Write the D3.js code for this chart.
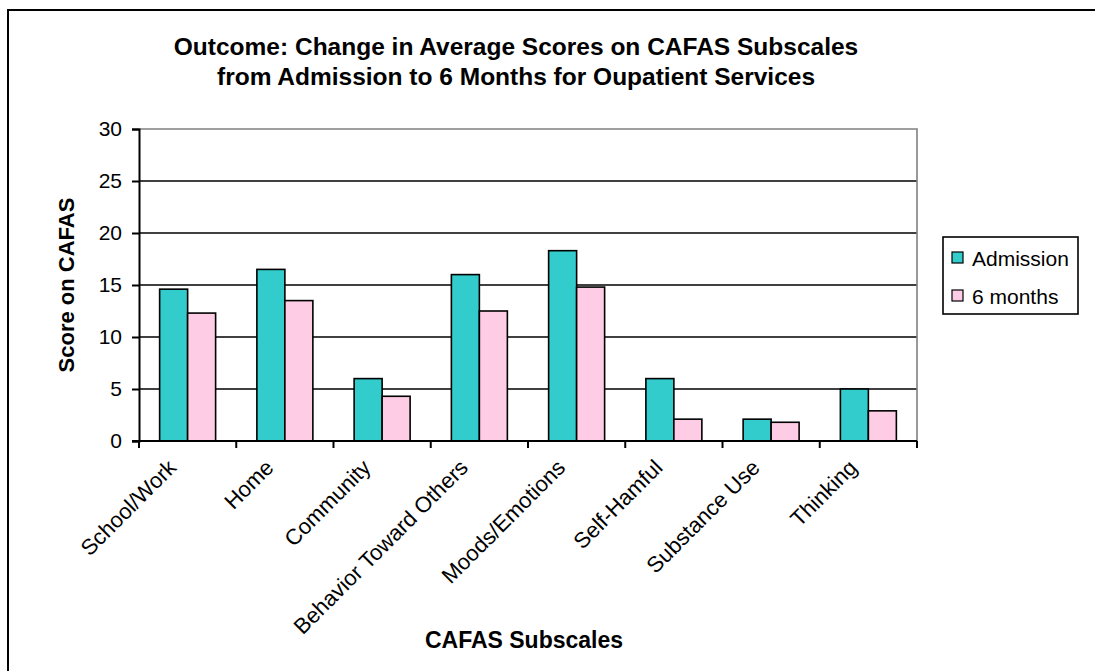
<!DOCTYPE html>
<html>
<head>
<meta charset="utf-8">
<script src="https://cdn.jsdelivr.net/npm/d3@7"></script>
<style>
  html, body { margin: 0; padding: 0; background: #fff; }
  svg { display: block; font-family: "Liberation Sans", Arial, sans-serif; }
</style>
</head>
<body>
<svg id="chart" width="1095" height="671"></svg>
<script>
// CAFAS subscale averages, admission vs. 6 months (outpatient services)
const categories = ["School/Work", "Home", "Community", "Behavior Toward Others",
                    "Moods/Emotions", "Self-Hamful", "Substance Use", "Thinking"];
const seriesNames = ["Admission", "6 months"];
const admission = [14.6, 16.5, 6.0, 16.0, 18.3, 6.0, 2.1, 5.0];
const sixMonths = [12.3, 13.5, 4.3, 12.5, 14.8, 2.1, 1.8, 2.9];
const yTicks = [0, 5, 10, 15, 20, 25, 30];
const titleLines = ["Outcome: Change in Average Scores on CAFAS Subscales",
                    "from Admission to 6 Months for Oupatient Services"];
const colors = ["#33CCCC", "#FFCCE6"];

const svg = d3.select("#chart");

// outer chart frame
svg.append("rect")
  .attr("x", 8).attr("y", 10).attr("width", 1200).attr("height", 800)
  .attr("fill", "none").attr("stroke", "#000").attr("stroke-width", 2);

const plot = { left: 139, right: 917, top: 129, bottom: 441 };

const x = d3.scaleBand().domain(categories).range([plot.left, plot.right]).padding(0);
const xSub = d3.scaleBand().domain(seriesNames).range([0, x.bandwidth()])
  .paddingInner(0).paddingOuter(0.737);
const y = d3.scaleLinear().domain([0, 30]).range([plot.bottom, plot.top]);

// gridlines
svg.append("g").selectAll("line").data(yTicks.filter(t => t > 0 && t < 30)).join("line")
  .attr("x1", plot.left).attr("x2", plot.right)
  .attr("y1", d => y(d)).attr("y2", d => y(d))
  .attr("stroke", "#000").attr("stroke-width", 1.6);

// plot area border (top / right)
svg.append("path")
  .attr("d", `M${plot.left},${y(30)}H${plot.right}V${plot.bottom}`)
  .attr("fill", "none").attr("stroke", "#808080").attr("stroke-width", 1.6);

// bars
const rows = categories.map((c, i) => ({ c, vals: [admission[i], sixMonths[i]] }));
const groups = svg.append("g").selectAll("g").data(rows).join("g")
  .attr("transform", d => `translate(${x(d.c)},0)`);
groups.selectAll("rect").data(d => d.vals.map((v, k) => ({ v, k }))).join("rect")
  .attr("x", d => xSub(seriesNames[d.k]))
  .attr("width", xSub.bandwidth())
  .attr("y", d => y(d.v))
  .attr("height", d => y(0) - y(d.v))
  .attr("fill", d => colors[d.k])
  .attr("stroke", "#000").attr("stroke-width", 1.6);

// y axis
const yAxis = svg.append("g").attr("transform", `translate(${plot.left},0)`)
  .call(d3.axisLeft(y).tickValues(yTicks).tickSize(7).tickPadding(10));
yAxis.select(".domain").attr("stroke", "#000").attr("stroke-width", 2);
yAxis.selectAll(".tick line").attr("stroke", "#000").attr("stroke-width", 2);
yAxis.selectAll(".tick text").attr("font-size", 21).attr("fill", "#000")
  .attr("font-family", "Liberation Sans, Arial, sans-serif");

// x axis line and boundary ticks
const boundaries = d3.range(categories.length + 1).map(i => plot.left + i * x.step());
svg.append("line")
  .attr("x1", plot.left - 7).attr("x2", plot.right)
  .attr("y1", plot.bottom).attr("y2", plot.bottom)
  .attr("stroke", "#000").attr("stroke-width", 2);
svg.append("g").selectAll("line").data(boundaries).join("line")
  .attr("x1", d => d).attr("x2", d => d)
  .attr("y1", plot.bottom).attr("y2", plot.bottom + 7)
  .attr("stroke", "#000").attr("stroke-width", 2);

// category labels, rotated 45 degrees
svg.append("g").selectAll("text").data(categories).join("text")
  .attr("transform", d => `translate(${x(d) + x.bandwidth() / 2 - 10},${plot.bottom + 28}) rotate(-45)`)
  .attr("text-anchor", "end")
  .attr("font-size", 22)
  .attr("fill", "#000")
  .text(d => d);

// title
svg.append("g").selectAll("text").data(titleLines).join("text")
  .attr("x", 516).attr("y", (d, i) => 55 + i * 30)
  .attr("text-anchor", "middle")
  .attr("font-size", 24.5).attr("font-weight", "bold")
  .text(d => d);

// axis titles
svg.append("text")
  .attr("transform", `translate(74,${(plot.top + plot.bottom) / 2}) rotate(-90)`)
  .attr("text-anchor", "middle")
  .attr("font-size", 22).attr("font-weight", "bold")
  .text("Score on CAFAS");

svg.append("text")
  .attr("x", 524).attr("y", 648)
  .attr("text-anchor", "middle")
  .attr("font-size", 23).attr("font-weight", "bold")
  .text("CAFAS Subscales");

// legend
const legend = svg.append("g");
legend.append("rect")
  .attr("x", 943).attr("y", 237).attr("width", 135).attr("height", 77)
  .attr("fill", "#fff").attr("stroke", "#000").attr("stroke-width", 1.6);
const items = legend.selectAll("g").data(seriesNames).join("g")
  .attr("transform", (d, i) => `translate(952,${258 + i * 38})`);
items.append("rect")
  .attr("x", 0).attr("y", -6).attr("width", 11).attr("height", 11)
  .attr("fill", (d, i) => colors[i]).attr("stroke", "#000").attr("stroke-width", 1.2);
items.append("text")
  .attr("x", 20).attr("y", 8)
  .attr("font-size", 21)
  .text(d => d);
</script>
</body>
</html>
